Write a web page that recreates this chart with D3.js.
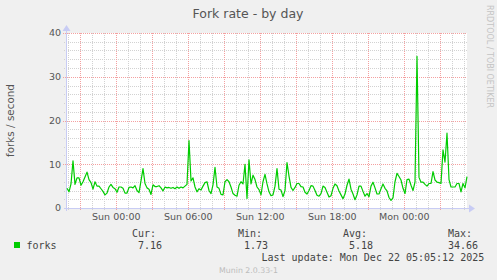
<!DOCTYPE html>
<html>
<head>
<meta charset="utf-8">
<script src="https://cdn.jsdelivr.net/npm/d3@7"></script>
<style>
  body { margin: 0; background: #f0f0f0; }
  svg { display: block; }
</style>
</head>
<body>
<div id="grafico"></div>
<script>
// datos (un punto cada 10 minutos)
var startTime = new Date(2025, 11, 20, 19, 53, 30);
var stepMinutes = 10;
var forkValues = [
  4.5, 3.7, 5.5, 10.8, 5.4, 6.9, 6.9, 5.2, 6.0, 7.1,
  8.2, 6.5, 5.8, 4.3, 6.0, 5.0, 5.0, 4.4, 3.8, 3.0,
  3.4, 4.8, 5.4, 4.7, 4.4, 3.6, 4.8, 4.8, 4.5, 3.4,
  3.4, 4.7, 4.8, 4.6, 5.1, 4.0, 3.5, 6.2, 9.0, 5.6,
  4.6, 4.3, 3.1, 5.3, 4.9, 4.9, 5.1, 4.6, 3.9, 4.8,
  4.6, 4.7, 4.5, 4.7, 4.4, 4.8, 4.5, 4.8, 4.6, 5.0,
  5.4, 15.4, 6.2, 6.9, 4.8, 3.7, 4.4, 4.1, 5.0, 5.8,
  6.0, 4.0, 3.3, 5.3, 9.3, 4.8, 4.5, 3.1, 3.0, 6.0,
  6.5, 6.0, 4.8, 3.3, 2.9, 2.7, 5.2, 6.0, 5.5, 10.0,
  2.2, 11.0, 5.5, 7.5, 6.5, 4.8, 4.2, 3.0, 6.0, 7.7,
  5.5, 3.7, 2.8, 3.0, 5.0, 9.0, 4.3, 4.1, 2.6, 4.0,
  10.4, 7.3, 4.7, 4.0, 4.7, 5.6, 5.6, 4.9, 4.8, 3.6,
  3.2, 4.0, 5.1, 5.0, 4.0, 2.9, 2.7, 3.3, 5.0, 4.7,
  3.6, 2.5, 2.8, 4.5, 5.5, 5.1, 3.9, 3.0, 2.1, 3.2,
  5.2, 6.6, 4.3, 3.2, 1.9, 3.0, 5.0, 5.0, 3.8, 2.7,
  3.3, 2.6, 5.0, 5.9, 4.6, 3.2, 3.2, 4.4, 5.5, 4.5,
  3.9, 2.4, 1.73, 2.3, 6.0, 7.9, 7.2, 6.4, 4.5, 3.3,
  6.5, 6.6, 5.2, 4.0, 5.9, 34.66, 7.0, 5.9, 5.9, 5.4,
  5.0, 5.6, 5.6, 8.3, 6.4, 5.9, 5.8, 5.6, 13.3, 10.5,
  17.1, 6.5, 4.8, 4.8, 4.8, 5.6, 5.6, 3.7, 5.6, 4.6,
  7.16
];
var yTicks = [0, 10, 20, 30, 40];
var legendHeads = ["Cur:", "Min:", "Avg:", "Max:"];
var legendValues = ["7.16", "1.73", "5.18", "34.66"];
var seriesName = "forks";
var lastUpdate = "Last update: Mon Dec 22 05:05:12 2025";

var datos = forkValues.map(function(v, i) {
  return { t: new Date(startTime.getTime() + i * stepMinutes * 60000), v: v };
});

function grafico_forks(container, props) {
  var margin = { top: 33, right: 30, bottom: 72, left: 67 };
  var width = props.width - margin.left - margin.right;
  var height = props.height - margin.top - margin.bottom;

  var svg = container.append('svg')
      .attr('width', props.width)
      .attr('height', props.height)
      .style('font-family', 'DejaVu Sans, sans-serif');

  svg.append('rect')
      .attr('width', props.width)
      .attr('height', props.height)
      .attr('fill', '#f0f0f0');

  // titulo
  svg.append('text')
      .attr('x', 248)
      .attr('y', 18.3)
      .attr('text-anchor', 'middle')
      .style('font-size', '12.5px')
      .attr('fill', '#555')
      .text('Fork rate - by day');

  // texto vertical de rrdtool
  svg.append('text')
      .attr('transform', 'translate(486.5,5) rotate(90)')
      .style('font-size', '8px')
      .attr('fill', '#c4c4c4')
      .text('RRDTOOL / TOBI OETIKER');

  var g = svg.append('g')
      .attr('transform', 'translate(' + margin.left + ',' + margin.top + ')');

  var endTime = new Date(startTime.getTime() + (forkValues.length - 1) * stepMinutes * 60000);
  var xScale = d3.scaleTime()
      .domain([startTime, endTime])
      .range([0, width]);
  var yScale = d3.scaleLinear()
      .domain([0, 40])
      .range([height, 0]);

  g.append('rect')
      .attr('width', width)
      .attr('height', height)
      .attr('fill', 'white');

  function px(v) { return Math.round(v) + 0.5; }

  // rejilla menor
  var horas = xScale.ticks(d3.timeHour.every(1));
  var horasMayor = xScale.ticks(d3.timeHour.every(3));
  var mayorSet = horasMayor.map(function(d) { return +d; });
  var menorY = d3.range(0, 41, 2).filter(function(d) { return d % 10 !== 0; });

  g.selectAll('.grid-x-menor')
    .data(horas.filter(function(d) { return mayorSet.indexOf(+d) < 0; }))
    .enter().append('line')
      .attr('class', 'grid-x-menor')
      .attr('x1', function(d) { return px(xScale(d)); })
      .attr('x2', function(d) { return px(xScale(d)); })
      .attr('y1', 0)
      .attr('y2', height + 2)
      .attr('stroke', '#d2d2d2')
      .attr('stroke-dasharray', '1,1');

  g.selectAll('.grid-y-menor')
    .data(menorY)
    .enter().append('line')
      .attr('class', 'grid-y-menor')
      .attr('x1', -3)
      .attr('x2', width)
      .attr('y1', function(d) { return px(yScale(d)); })
      .attr('y2', function(d) { return px(yScale(d)); })
      .attr('stroke', '#d2d2d2')
      .attr('stroke-dasharray', '1,1');

  // rejilla mayor
  g.selectAll('.grid-x-mayor')
    .data(horasMayor)
    .enter().append('line')
      .attr('class', 'grid-x-mayor')
      .attr('x1', function(d) { return px(xScale(d)); })
      .attr('x2', function(d) { return px(xScale(d)); })
      .attr('y1', 0)
      .attr('y2', height + 3)
      .attr('stroke', '#f4a0a0')
      .attr('stroke-dasharray', '1,1');

  g.selectAll('.grid-y-mayor')
    .data(yTicks.filter(function(d) { return d > 0; }))
    .enter().append('line')
      .attr('class', 'grid-y-mayor')
      .attr('x1', -4)
      .attr('x2', width)
      .attr('y1', function(d) { return px(yScale(d)); })
      .attr('y2', function(d) { return px(yScale(d)); })
      .attr('stroke', '#f4a0a0')
      .attr('stroke-dasharray', '1,1');

  // etiquetas eje Y
  g.selectAll('.y-label')
    .data(yTicks)
    .enter().append('text')
      .attr('class', 'y-label')
      .attr('x', -6)
      .attr('y', function(d) { return yScale(d); })
      .attr('dy', '0.36em')
      .attr('text-anchor', 'end')
      .style('font-size', '9.5px')
      .attr('fill', '#555')
      .text(function(d) { return d; });

  // etiquetas eje X
  var formato = d3.timeFormat('%a %H:%M');
  g.selectAll('.x-label')
    .data(xScale.ticks(d3.timeHour.every(6)))
    .enter().append('text')
      .attr('class', 'x-label')
      .attr('x', function(d) { return xScale(d); })
      .attr('y', height + 12)
      .attr('text-anchor', 'middle')
      .style('font-size', '9.5px')
      .attr('fill', '#555')
      .text(function(d) { return formato(d); });

  // ejes con flechas
  g.append('line')
      .attr('x1', -0.5).attr('x2', -0.5)
      .attr('y1', -3).attr('y2', height + 3)
      .attr('stroke', '#c8ccf4');
  g.append('line')
      .attr('x1', -3).attr('x2', width + 3)
      .attr('y1', height + 0.5).attr('y2', height + 0.5)
      .attr('stroke', '#c8ccf4');
  g.append('path')
      .attr('d', 'M' + (width + 2) + ',' + (height - 3.5) + 'L' + (width + 8) + ',' + (height + 0.5) + 'L' + (width + 2) + ',' + (height + 4.5) + 'Z')
      .attr('fill', '#c8ccf4');
  g.append('path')
      .attr('d', 'M-4.5,-2L-0.5,-8L3.5,-2Z')
      .attr('fill', '#c8ccf4');

  // linea de datos
  var linea = d3.line()
      .x(function(d) { return xScale(d.t); })
      .y(function(d) { return yScale(d.v); });

  g.append('path')
      .datum(datos)
      .attr('d', linea)
      .attr('fill', 'none')
      .attr('stroke', '#00cc00')
      .attr('stroke-width', 1.2)
      .attr('stroke-linejoin', 'round');

  // etiqueta eje Y
  svg.append('text')
      .attr('transform', 'translate(14,' + (margin.top + height / 2) + ') rotate(-90)')
      .attr('text-anchor', 'middle')
      .style('font-size', '10.4px')
      .attr('fill', '#555')
      .text('forks / second');

  // leyenda
  var mono = 'DejaVu Sans Mono, monospace';
  var headX = [132, 238, 343, 448];
  var valX = [138, 244, 349, 448];

  svg.append('rect')
      .attr('x', 14).attr('y', 242)
      .attr('width', 6).attr('height', 6)
      .attr('fill', '#00cc00');

  svg.append('text')
      .attr('x', 26.5).attr('y', 248.5)
      .style('font-family', mono)
      .style('font-size', '10px')
      .attr('fill', '#444')
      .text(seriesName);

  svg.selectAll('.leg-head')
    .data(legendHeads)
    .enter().append('text')
      .attr('class', 'leg-head')
      .attr('x', function(d, i) { return headX[i]; })
      .attr('y', 236.5)
      .style('font-family', mono)
      .style('font-size', '10px')
      .attr('fill', '#444')
      .text(function(d) { return d; });

  svg.selectAll('.leg-val')
    .data(legendValues)
    .enter().append('text')
      .attr('class', 'leg-val')
      .attr('x', function(d, i) { return valX[i]; })
      .attr('y', 248.5)
      .style('font-family', mono)
      .style('font-size', '10px')
      .attr('fill', '#444')
      .text(function(d) { return d; });

  svg.append('text')
      .attr('x', 261.5).attr('y', 260.5)
      .style('font-family', mono)
      .style('font-size', '10px')
      .attr('fill', '#444')
      .text(lastUpdate);

  svg.append('text')
      .attr('x', 248.5).attr('y', 272.5)
      .attr('text-anchor', 'middle')
      .style('font-size', '7.8px')
      .attr('fill', '#bcbcbc')
      .text('Munin 2.0.33-1');
}

grafico_forks(d3.select('#grafico'), { width: 497, height: 280 });
</script>
</body>
</html>
